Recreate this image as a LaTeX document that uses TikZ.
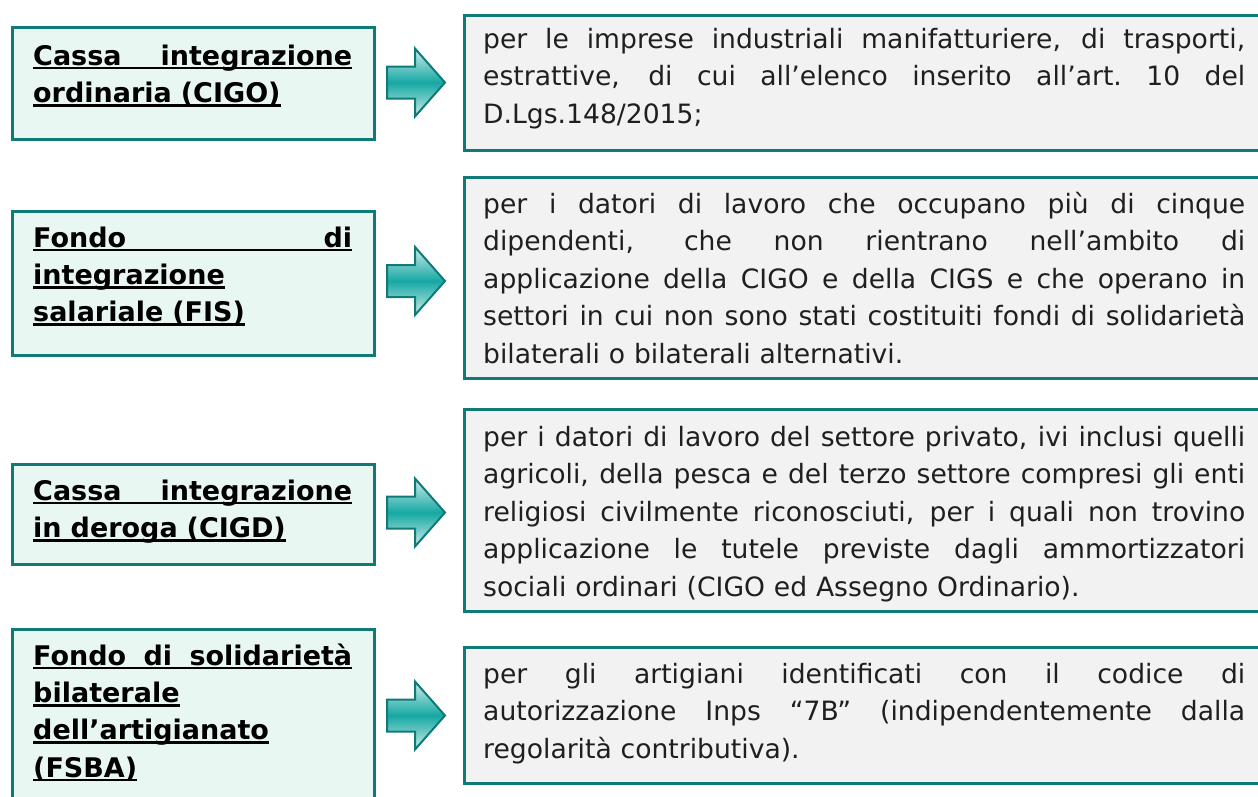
\documentclass[tikz,border=0pt]{standalone}
\usepackage{fontspec}
\setmainfont{DejaVu Sans}
\definecolor{tealb}{RGB}{16,122,119}
\definecolor{mint}{RGB}{233,247,243}
\definecolor{grayf}{RGB}{242,242,242}
\definecolor{arrowmid}{RGB}{22,168,163}
\definecolor{arrowlight}{RGB}{205,236,234}
\newlength{\lw}\setlength{\lw}{319pt}
\newlength{\rw}\setlength{\rw}{762pt}
\newcommand{\stretchsp}{\spaceskip=\fontdimen2\font plus 1fil\relax\xspaceskip=\spaceskip}
\newcommand{\ulb}[1]{\leavevmode\setbox0=\hbox{#1}\rlap{\rule[-4pt]{\wd0}{2.6pt}}\box0}
\newcommand{\ulj}[1]{\ulb{\makebox[\lw][s]{\stretchsp #1}}}
\newcommand{\jl}[1]{\leavevmode\makebox[\rw][s]{\stretchsp #1}}
\newcommand{\fs}{\leavevmode\rule{0pt}{24pt}}
\newcommand{\blockarrow}[2]{%
  \shade[top color=arrowlight, bottom color=arrowlight, middle color=arrowmid]
    (387,#1-16) -- (415,#1-16) -- (415,#1-34) -- (445,#1) -- (415,#1+34) -- (415,#1+16) -- (387,#1+16) -- cycle;
  \draw[tealb, line width=2pt, line join=miter]
    (387,#1-16) -- (415,#1-16) -- (415,#1-34) -- (445,#1) -- (415,#1+34) -- (415,#1+16) -- (387,#1+16) -- cycle;
  \coordinate (#2) at (445,#1);}
\begin{document}
\begin{tikzpicture}[x=1pt,y=-1pt,
  leftbox/.style={draw=tealb, line width=3.4pt, fill=mint, anchor=north west, inner sep=0pt},
  rightbox/.style={draw=tealb, line width=3.4pt, fill=grayf, anchor=north west, inner sep=0pt, minimum width=830pt},
  lefttext/.style={anchor=north west, inner sep=0pt, text width=\lw, align=left,
    font=\bfseries\fontsize{27}{37.3}\selectfont},
  righttext/.style={anchor=north west, inner sep=0pt, text width=\rw, align=left,
    font=\fontsize{26.6}{37.5}\selectfont, text=black!88}]
\useasboundingbox (0,0) rectangle (1258,796);
\begin{scope}
\clip (0,0) rectangle (1258,796);
% left boxes
\node[leftbox, minimum width=362pt, minimum height=112pt] (L1) at (10.5,25.5) {};
\node[leftbox, minimum width=362pt, minimum height=144pt] (L2) at (10.5,209.5) {};
\node[leftbox, minimum width=362pt, minimum height=100pt] (L3) at (10.5,462.5) {};
\node[leftbox, minimum width=362pt, minimum height=200pt] (L4) at (10.5,627.5) {};
% right boxes
\node[rightbox, minimum height=135pt] (R1) at (463,13.5) {};
\node[rightbox, minimum height=201pt] (R2) at (463,175.5) {};
\node[rightbox, minimum height=202pt] (R3) at (463,408) {};
\node[rightbox, minimum height=136pt] (R4) at (463,645.5) {};
\end{scope}
% arrows
\blockarrow{82.5}{A1}
\blockarrow{281}{A2}
\blockarrow{512.5}{A3}
\blockarrow{715.5}{A4}
% left texts
\node[lefttext] (T1) at (33,41) {\fs\ulj{Cassa integrazione}\\\ulb{ordinaria (CIGO)}};
\node[lefttext] (T2) at (33,223) {\fs\ulj{Fondo di}\\\ulb{integrazione}\\\ulb{salariale (FIS)}};
\node[lefttext] (T3) at (33,476) {\fs\ulj{Cassa integrazione}\\\ulb{in deroga (CIGD)}};
\node[lefttext] (T4) at (33,641) {\fs\ulj{Fondo di solidarietà}\\\ulb{bilaterale}\\\ulb{dell’artigianato}\\\ulb{(FSBA)}};
% right texts
\node[righttext] (D1) at (483,24) {\fs\jl{per le imprese industriali manifatturiere, di trasporti,}\\
\jl{estrattive, di cui all’elenco inserito all’art. 10 del}\\
D.Lgs.148/2015;};
\node[righttext] (D2) at (483,189) {\fs\jl{per i datori di lavoro che occupano più di cinque}\\
\jl{dipendenti, che non rientrano nell’ambito di}\\
\jl{applicazione della CIGO e della CIGS e che operano in}\\
\jl{settori in cui non sono stati costituiti fondi di solidarietà}\\
bilaterali o bilaterali alternativi.};
\node[righttext] (D3) at (483,422) {\fs\jl{per i datori di lavoro del settore privato, ivi inclusi quelli}\\
\jl{agricoli, della pesca e del terzo settore compresi gli enti}\\
\jl{religiosi civilmente riconosciuti, per i quali non trovino}\\
\jl{applicazione le tutele previste dagli ammortizzatori}\\
sociali ordinari (CIGO ed Assegno Ordinario).};
\node[righttext] (D4) at (483,659) {\fs\jl{per gli artigiani identificati con il codice di}\\
\jl{autorizzazione Inps “7B” (indipendentemente dalla}\\
regolarità contributiva).};
\end{tikzpicture}
\end{document}
